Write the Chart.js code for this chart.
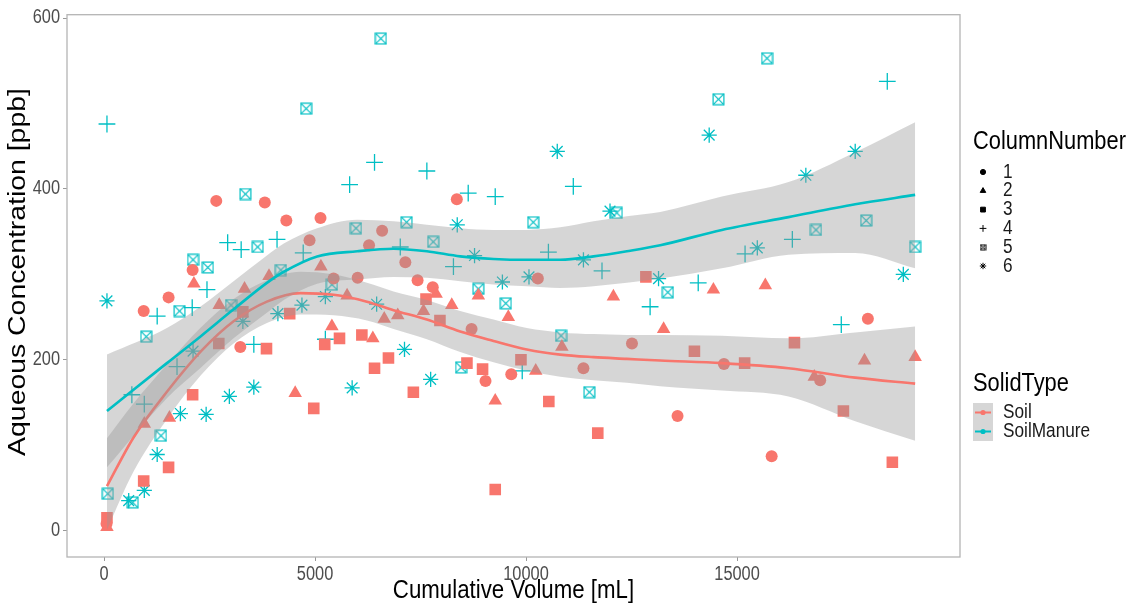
<!DOCTYPE html>
<html lang="en">
<head>
  <meta charset="UTF-8">
  <title>Aqueous Concentration vs Cumulative Volume</title>
  <script src="https://cdn.jsdelivr.net/npm/chart.js"></script>
  <style>
    html, body { margin: 0; padding: 0; background: #fff; }
    canvas { display: block; }
  </style>
</head>
<body>
  <canvas id="chart" width="1129" height="605"></canvas>
  <script>
    // points, one pair of arrays per ColumnNumber
    const soilC1X = [60, 940, 1530, 2100, 2660, 3230, 3810, 4320, 4870, 5130, 5440, 6010, 6280, 6590, 7140, 7430, 7790, 8360, 8710, 9040, 9650, 10280, 11360, 12510, 13590, 14690, 15820, 16970, 18100];
    const soilC1Y = [8, 257, 273, 305, 386, 215, 384, 363, 340, 366, 295, 296, 334, 351, 314, 293, 285, 388, 236, 175, 183, 295, 190, 219, 134, 195, 87, 176, 248];

    const soilC2X = [70, 955, 1550, 2130, 2730, 3330, 3910, 4530, 5140, 5400, 5760, 6370, 6640, 6960, 7570, 7870, 8240, 8870, 9270, 9580, 10230, 10850, 12070, 13260, 14440, 15670, 16830, 18020, 19220];
    const soilC2Y = [4, 125, 132, 289, 264, 283, 298, 161, 309, 239, 275, 225, 248, 252, 257, 277, 264, 275, 152, 250, 187, 215, 274, 236, 282, 287, 180, 199, 203];

    const soilC3X = [70, 940, 1530, 2100, 2720, 3290, 3850, 4400, 4970, 5230, 5580, 6110, 6410, 6740, 7330, 7630, 7960, 8600, 8970, 9270, 9880, 10540, 11700, 12840, 13990, 15180, 16360, 17520, 18680];
    const soilC3Y = [15, 58, 74, 159, 219, 256, 213, 254, 143, 218, 225, 229, 190, 202, 162, 271, 246, 196, 189, 48, 200, 151, 114, 297, 210, 196, 220, 140, 80];

    const manureC4X = [70, 660, 955, 1260, 1730, 2090, 2440, 2930, 3250, 3550, 4100, 4720, 5245, 5820, 6410, 7020, 7650, 8280, 8630, 9270, 9910, 10530, 11120, 11800, 12940, 14080, 15190, 16310, 17470, 18560];
    const manureC4Y = [476, 159, 148, 251, 192, 261, 282, 337, 329, 218, 341, 325, 224, 405, 431, 332, 421, 309, 395, 391, 187, 326, 403, 304, 262, 290, 324, 341, 241, 526];

    const manureC5X = [90, 680, 1000, 1350, 1790, 2110, 2460, 3010, 3350, 3640, 4190, 4790, 5400, 5970, 6560, 7170, 7800, 8460, 8870, 9520, 10170, 10830, 11500, 12150, 13360, 14560, 15710, 16870, 18060, 19220];
    const manureC5Y = [43, 33, 227, 111, 257, 317, 308, 264, 394, 332, 305, 494, 288, 354, 576, 361, 338, 191, 283, 266, 361, 228, 162, 372, 279, 505, 553, 352, 363, 332];

    const manureC6X = [70, 585, 955, 1260, 1810, 2110, 2420, 2970, 3290, 3550, 4120, 4690, 5245, 5880, 6460, 7120, 7740, 8370, 8780, 9440, 10070, 10740, 11360, 11990, 13140, 14340, 15480, 16630, 17800, 18940];
    const manureC6Y = [269, 35, 47, 89, 137, 210, 136, 157, 245, 168, 254, 264, 274, 167, 265, 212, 177, 358, 322, 291, 297, 444, 317, 374, 295, 463, 331, 416, 444, 300];

    // loess fits with confidence band
    const soilFitX = [70, 700, 1500, 2300, 3070, 3860, 4650, 5440, 6230, 6860, 7650, 8440, 9230, 10020, 10810, 11600, 12390, 13180, 14640, 16220, 17800, 19220];
    const soilFit  = [52, 109, 163, 210, 245, 268, 278, 276, 268, 258, 247, 233, 222, 212, 206, 203, 201, 199, 196, 190, 179, 172];
    const soilLow  = [1, 69, 131, 182, 219, 243, 253, 252, 246, 236, 224, 209, 197, 187, 180, 176, 173, 169, 164, 157, 128, 105];
    const soilHigh = [108, 149, 195, 238, 271, 293, 303, 300, 290, 280, 270, 257, 247, 237, 232, 230, 229, 229, 228, 225, 232, 239];

    const manureFitX = [70, 1490, 2280, 3070, 3860, 4260, 5050, 6000, 6860, 7650, 8440, 9230, 10020, 10810, 11600, 12390, 13180, 14640, 16220, 17800, 19220];
    const manureFit  = [140, 196, 227, 259, 290, 303, 321, 327, 330, 327, 321, 318, 317, 317, 321, 327, 334, 352, 367, 382, 393];
    const manureLow  = [74, 155, 190, 225, 255, 270, 289, 294, 297, 296, 292, 288, 286, 284, 286, 290, 295, 307, 323, 325, 307];
    const manureHigh = [206, 237, 262, 292, 322, 336, 354, 364, 362, 358, 354, 352, 352, 355, 362, 368, 373, 391, 408, 443, 478];

    const xTicks = [0, 5000, 10000, 15000];
    const yTicks = [0, 200, 400, 600];
    const columnLabels = ['1', '2', '3', '4', '5', '6'];
    const solidLabels = ['Soil', 'SoilManure'];

    const SOIL = '#F8766D';
    const MANURE = '#00BFC4';
    const BAND = 'rgba(153,153,153,0.4)';
    const fam = "'Liberation Sans', Arial, sans-serif";
    const SQUEEZE = 0.84; // the original text is horizontally condensed

    Chart.defaults.font.family = fam;

    const canvas = document.getElementById('chart');
    const ctx0 = canvas.getContext('2d');
    const rawFill = CanvasRenderingContext2D.prototype.fillText;
    ctx0.fillText = function (text, x, y) {
      this.save();
      this.translate(x, y);
      this.scale(SQUEEZE, 1);
      rawFill.call(this, text, 0, 0);
      this.restore();
    };

    const toPts = (xs, ys) => xs.map((x, i) => ({ x: x, y: ys[i] }));

    // square with an X in it (R shape 7)
    function boxedX(size, color, lw) {
      const c = document.createElement('canvas');
      c.width = size; c.height = size;
      const g = c.getContext('2d');
      g.strokeStyle = color;
      g.lineWidth = lw;
      const o = lw / 2 + 0.5, e = size - o;
      g.strokeRect(o, o, e - o, e - o);
      g.beginPath();
      g.moveTo(o, o); g.lineTo(e, e);
      g.moveTo(e, o); g.lineTo(o, e);
      g.stroke();
      return c;
    }

    const fitLine = (xs, ys, color, order) => ({
      type: 'line', data: toPts(xs, ys), order: order,
      borderColor: color, borderWidth: 2.6, pointRadius: 0,
      cubicInterpolationMode: 'monotone', fill: false
    });
    const band = (xs, ys, fill, order) => ({
      type: 'line', data: toPts(xs, ys), order: order,
      borderColor: 'transparent', borderWidth: 0, pointRadius: 0,
      cubicInterpolationMode: 'monotone', fill: fill, backgroundColor: BAND
    });
    const pts = (xs, ys, style, r, color, bw) => ({
      type: 'scatter', data: toPts(xs, ys), order: 10,
      pointStyle: style, pointRadius: r, pointBorderWidth: bw,
      pointBackgroundColor: color, pointBorderColor: color,
      backgroundColor: color, borderColor: color
    });

    const panelFrame = {
      id: 'panelFrame',
      afterDatasetsDraw(chart) {
        const { ctx, chartArea: a } = chart;
        ctx.save();
        ctx.strokeStyle = '#b4b4b4';
        ctx.lineWidth = 1.3;
        ctx.strokeRect(a.left, a.top, a.right - a.left, a.bottom - a.top);
        ctx.restore();
      },
      afterDraw(chart) {
        // y title, squeezed across its height like the rest of the text
        const ctx = chart.ctx;
        ctx.save();
        ctx.translate(18, 272);
        ctx.scale(SQUEEZE, 1);
        ctx.rotate(-Math.PI / 2);
        ctx.font = '28.4px ' + fam;
        ctx.fillStyle = '#000';
        ctx.textAlign = 'center';
        ctx.textBaseline = 'middle';
        rawFill.call(ctx, 'Aqueous Concentration [ppb]', 0, 0);
        ctx.restore();
      }
    };

    const legendStyles = ['circle', 'triangle', 'rect', 'cross', boxedX(7, '#000', 1), 'star'];
    const legendRadii = [2.6, 3.2, 3.4, 3.4, 3, 3.2];

    const ggLegend = {
      id: 'ggLegend',
      afterDraw(chart) {
        const ctx = chart.ctx;
        ctx.save();
        ctx.textBaseline = 'middle';
        ctx.textAlign = 'left';
        ctx.fillStyle = '#000';
        ctx.font = '26px ' + fam;
        ctx.fillText('ColumnNumber', 973, 142);
        columnLabels.forEach((lab, i) => {
          const y = 172 + i * 18.8;
          ctx.fillStyle = '#000';
          ctx.strokeStyle = '#000';
          ctx.lineWidth = 1;
          Chart.helpers.drawPoint(ctx, { pointStyle: legendStyles[i], radius: legendRadii[i], borderWidth: 1, rotation: 0 }, 983, y);
          ctx.font = '20.5px ' + fam;
          ctx.fillStyle = '#1a1a1a';
          ctx.fillText(lab, 1003, y);
        });

        ctx.fillStyle = '#000';
        ctx.font = '26px ' + fam;
        ctx.fillText('SolidType', 973, 384);
        ctx.fillStyle = '#d6d6d6';
        ctx.fillRect(973, 403, 20, 38);
        [SOIL, MANURE].forEach((col, i) => {
          const y = 412.5 + i * 19;
          ctx.strokeStyle = col;
          ctx.lineWidth = 2;
          ctx.beginPath();
          ctx.moveTo(975, y); ctx.lineTo(991, y);
          ctx.stroke();
          ctx.fillStyle = col;
          ctx.beginPath();
          ctx.arc(983, y, 2.6, 0, Math.PI * 2);
          ctx.fill();
          ctx.font = '20.5px ' + fam;
          ctx.fillStyle = '#1a1a1a';
          ctx.fillText(solidLabels[i], 1003, y);
        });
        ctx.restore();
      }
    };

    new Chart(canvas, {
      type: 'scatter',
      data: {
        datasets: [
          fitLine(manureFitX, manureFit, MANURE, 1),
          band(manureFitX, manureHigh, '+1', 2),
          band(manureFitX, manureLow, false, 2),
          fitLine(soilFitX, soilFit, SOIL, 3),
          band(soilFitX, soilHigh, '+1', 4),
          band(soilFitX, soilLow, false, 4),
          pts(soilC1X, soilC1Y, 'circle', 6, SOIL, 0),
          pts(soilC2X, soilC2Y, 'triangle', 7.8, SOIL, 0),
          pts(soilC3X, soilC3Y, 'rect', 8.2, SOIL, 0),
          pts(manureC4X, manureC4Y, 'cross', 8.4, MANURE, 1.3),
          pts(manureC5X, manureC5Y, boxedX(13, MANURE, 1.2), 6, MANURE, 1),
          pts(manureC6X, manureC6Y, 'star', 7.6, MANURE, 1.3)
        ]
      },
      options: {
        responsive: false,
        animation: false,
        events: [],
        layout: { padding: { top: 12, right: 169, left: 0, bottom: 0 } },
        plugins: { legend: { display: false }, tooltip: { enabled: false } },
        scales: {
          x: {
            type: 'linear', min: -877, max: 20283,
            afterBuildTicks: s => { s.ticks = xTicks.map(v => ({ value: v })); },
            afterFit: s => { s.height = 48; },
            grid: { display: true, drawOnChartArea: false, drawTicks: true, tickLength: 4, color: '#999', lineWidth: 1 },
            border: { display: false },
            ticks: { color: '#4d4d4d', font: { size: 19.5 }, padding: 2, maxRotation: 0, autoSkip: false, callback: v => String(v) },
            title: { display: true, text: 'Cumulative Volume [mL]', color: '#000', font: { size: 26.5, lineHeight: 1 }, padding: { top: 0, bottom: 1 } }
          },
          y: {
            type: 'linear', min: -31, max: 604,
            afterBuildTicks: s => { s.ticks = yTicks.map(v => ({ value: v })); },
            afterFit: s => { s.width = 67; },
            grid: { display: true, drawOnChartArea: false, drawTicks: true, tickLength: 4, color: '#999', lineWidth: 1 },
            border: { display: false },
            ticks: { color: '#4d4d4d', font: { size: 19.5 }, padding: 3, autoSkip: false, callback: v => String(v) },
            title: { display: false }
          }
        }
      },
      plugins: [panelFrame, ggLegend]
    });
  </script>
</body>
</html>
